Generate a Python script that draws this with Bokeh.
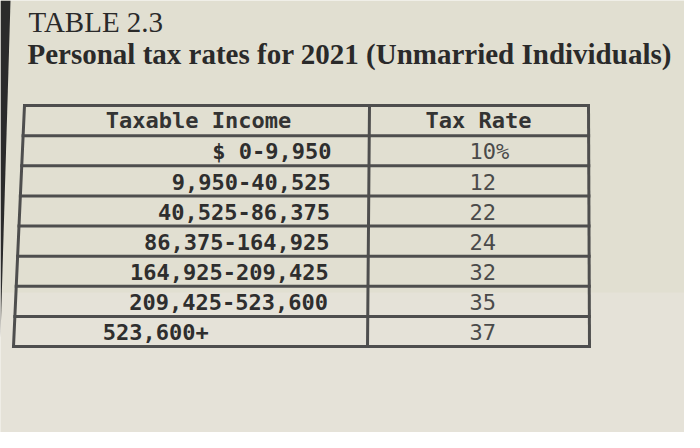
from bokeh.plotting import figure
from bokeh.models import Range1d, ColumnDataSource
from bokeh.core.properties import value
from bokeh.embed import file_html
from bokeh.resources import INLINE

# ---- data ----
table_label = "TABLE 2.3"
table_title = "Personal tax rates for 2021 (Unmarried Individuals)"
headers = ["Taxable Income", "Tax Rate"]
income_brackets = ["$ 0-9,950", "9,950-40,525", "40,525-86,375", "86,375-164,925",
                   "164,925-209,425", "209,425-523,600", "523,600+"]
tax_rates = ["10%", "12", "22", "24", "32", "35", "37"]

# ---- layout (image-pixel coordinates) ----
BG = "#e1dfd1"
LINE = "#4e4e4e"
TOP, ROW_H = 113.0, 30.125
n_rows = len(income_brackets) + 1
BOTTOM = TOP + n_rows * ROW_H
LEFT_TOP, LEFT_BOT = 32.0, 21.0
MID_TOP, MID_BOT = 377.0, 375.0
RIGHT_TOP, RIGHT_BOT = 596.0, 597.0


def edge(x_top, x_bot, y):
    return x_top + (x_bot - x_top) * (y - TOP) / (BOTTOM - TOP)


p = figure(width=684, height=432, x_range=Range1d(8, 692), y_range=Range1d(440, 8),
           output_backend="svg", toolbar_location=None, min_border=0)
p.axis.visible = False
p.grid.visible = False
p.outline_line_color = None
p.background_fill_color = BG
p.border_fill_color = BG

# lighter lower area of the photo
p.quad(left=[8], right=[692], top=[300], bottom=[440], fill_color="#e7e5dc",
       fill_alpha=0.6, line_color=None)
# dark photo edge on the left
p.patch(x=[8, 18, 8], y=[8, 8, 345], fill_color="#2b2b2b", line_color=None)

# titles
p.text(x=[36], y=[29], text=[table_label], text_font=value("Liberation Serif"),
       text_font_size="29px", text_color="#2a2a2a", text_baseline="middle",
       text_align="left")
p.text(x=[35], y=[61], text=[table_title], text_font=value("Liberation Serif"),
       text_font_size="29px", text_font_style="bold", text_color="#2a2a2a",
       text_baseline="middle", text_align="left")

# table lines
ys = [TOP + k * ROW_H for k in range(n_rows + 1)]
h_src = ColumnDataSource(dict(
    x0=[edge(LEFT_TOP, LEFT_BOT, y) for y in ys],
    x1=[edge(RIGHT_TOP, RIGHT_BOT, y) for y in ys],
    y=ys))
p.segment(x0="x0", y0="y", x1="x1", y1="y", source=h_src, line_color=LINE,
          line_width=3, line_cap="square")
p.segment(x0=[LEFT_TOP, MID_TOP, RIGHT_TOP], y0=[TOP, TOP, TOP],
          x1=[LEFT_BOT, MID_BOT, RIGHT_BOT], y1=[BOTTOM, BOTTOM, BOTTOM],
          line_color=LINE, line_width=3, line_cap="square")

MONO = value("DejaVu Sans Mono")
FS = "22px"
# header
hy = TOP + ROW_H / 2
p.text(x=[206, 486], y=[hy, hy], text=headers, text_font=MONO, text_font_size=FS,
       text_font_style="bold", text_color="#333333", text_align="center",
       text_baseline="middle")

# body
row_y = [TOP + (i + 1.5) * ROW_H + 1 for i in range(len(income_brackets))]
right_x, right_y, right_t = [], [], []
left_x, left_y, left_t = [], [], []
for i, s in enumerate(income_brackets):
    if s.endswith("+"):
        left_x.append(112 - i * 0.3); left_y.append(row_y[i]); left_t.append(s)
    else:
        right_x.append(339 - i * 0.7); right_y.append(row_y[i]); right_t.append(s)
p.text(x=right_x, y=right_y, text=right_t, text_font=MONO, text_font_size=FS,
       text_font_style="bold", text_color="#2e2e2e", text_align="right",
       text_baseline="middle")
p.text(x=left_x, y=left_y, text=left_t, text_font=MONO, text_font_size=FS,
       text_font_style="bold", text_color="#2e2e2e", text_align="left",
       text_baseline="middle")
p.text(x=[477] * len(tax_rates), y=row_y, text=tax_rates, text_font=MONO,
       text_font_size=FS, text_color="#4a4a4a", text_align="left",
       text_baseline="middle")

open("out.html", "w").write(file_html(p, INLINE))
